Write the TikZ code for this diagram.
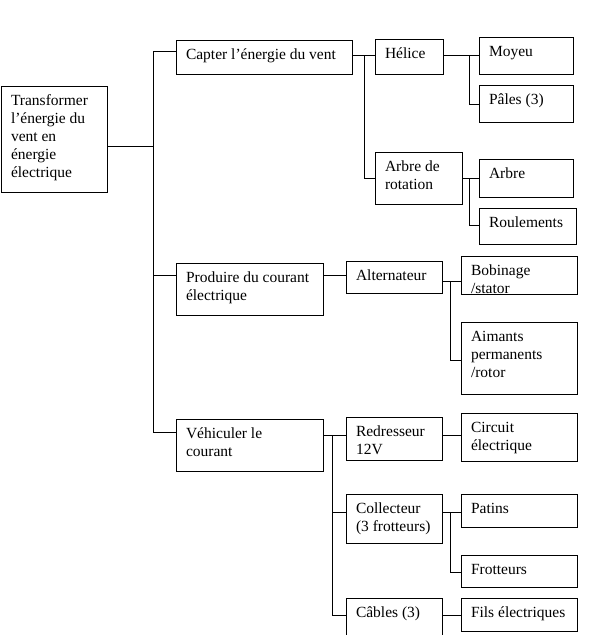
\documentclass[tikz,border=0pt]{standalone}
\usepackage{fontspec}
\setmainfont{Liberation Serif}
\newcommand{\mybox}[6]{\node[box] (#1) at (#2,#3) {\parbox[c][\dimexpr #5pt-#3pt\relax][t]{\dimexpr #4pt-#2pt-20pt\relax}{\raggedright\rule{0pt}{19pt}#6}};}
\tikzset{
  box/.style={draw, line width=0.9pt, inner xsep=10pt, inner ysep=0pt, outer sep=0pt, anchor=north west, font=\fontsize{15.5}{18}\selectfont},
  conn/.style={line width=0.9pt}
}
\begin{document}
\begin{tikzpicture}[x=1pt,y=-1pt]
\useasboundingbox (0,0) rectangle (591,635);
\clip (0,0) rectangle (591,635);
\fill[white] (0,0) rectangle (591,635);
% boxes
\mybox{root}{1}{86}{107}{192}{Transformer\\l’énergie du\\vent en\\énergie\\électrique}
\mybox{capter}{176}{40}{352}{74}{Capter l’énergie du vent}
\mybox{prod}{176}{263}{323}{315}{Produire du courant\\électrique}
\mybox{veh}{176}{419}{323}{471}{Véhiculer le\\courant}
\mybox{hel}{375}{39}{443}{74}{Hélice}
\mybox{arbrot}{375}{152}{462}{204}{Arbre de\\rotation}
\mybox{moy}{479}{37}{573}{74}{Moyeu}
\mybox{pal}{479}{85}{573}{122}{Pâles (3)}
\mybox{arb}{479}{159}{573}{197}{Arbre}
\mybox{roul}{479}{208}{576}{244}{Roulements}
\mybox{alt}{346}{261}{442}{293}{Alternateur}
\mybox{bob}{461}{256}{577}{294}{Bobinage\\/stator}
\mybox{aim}{461}{322}{577}{394}{Aimants\\permanents\\/rotor}
\mybox{red}{346}{417}{442}{460}{Redresseur\\12V}
\mybox{circ}{461}{413}{577}{461}{Circuit\\électrique}
\mybox{coll}{346}{494}{442}{543}{Collecteur\\(3 frotteurs)}
\mybox{pat}{461}{494}{577}{527}{Patins}
\mybox{frot}{461}{555}{577}{587}{Frotteurs}
\mybox{cab}{346}{598}{442}{650}{Câbles (3)}
\mybox{fils}{461}{598}{577}{631}{Fils électriques}
% connectors
\draw[conn] (root.east |- 0,146) -- (153,146);
\draw[conn] (capter.west |- 0,51) -| (153,432) -- (veh.west |- 0,432);
\draw[conn] (153,275) -- (prod.west |- 0,275);
\draw[conn] (capter.east |- 0,55) -- (hel.west |- 0,55);
\draw[conn] (364,55) |- (arbrot.west |- 0,178);
\draw[conn] (hel.east |- 0,55) -- (moy.west |- 0,55);
\draw[conn] (469,55) |- (pal.west |- 0,104);
\draw[conn] (arbrot.east |- 0,178) -- (arb.west |- 0,178);
\draw[conn] (469,178) |- (roul.west |- 0,225);
\draw[conn] (prod.east |- 0,275) -- (alt.west |- 0,275);
\draw[conn] (alt.east |- 0,281) -- (bob.west |- 0,281);
\draw[conn] (450,281) |- (aim.west |- 0,360);
\draw[conn] (veh.east |- 0,435) -- (red.west |- 0,435);
\draw[conn] (332,435) |- (cab.west |- 0,615);
\draw[conn] (332,512) -- (coll.west |- 0,512);
\draw[conn] (red.east |- 0,435) -- (circ.west |- 0,435);
\draw[conn] (coll.east |- 0,512) -- (pat.west |- 0,512);
\draw[conn] (450,512) |- (frot.west |- 0,572);
\draw[conn] (cab.east |- 0,615) -- (fils.west |- 0,615);
\end{tikzpicture}
\end{document}
